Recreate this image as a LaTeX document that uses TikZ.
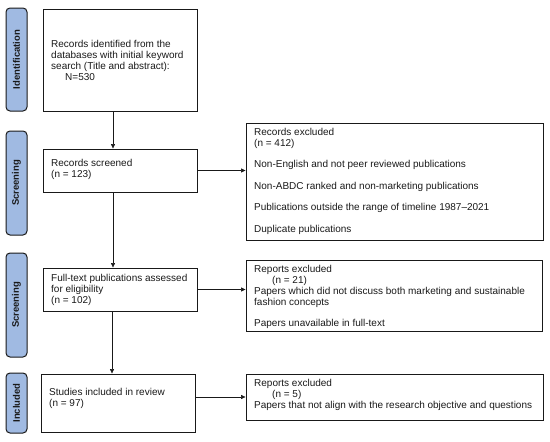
\documentclass[tikz,border=0pt]{standalone}
\usepackage{fontspec}
\setmainfont{Liberation Sans}
\usetikzlibrary{arrows.meta}
\definecolor{barblue}{RGB}{160,186,226}
\definecolor{edge}{RGB}{25,25,25}
\begin{document}
\begin{tikzpicture}[x=1pt,y=-1pt,
  bar/.style={draw=edge, line width=1pt, fill=barblue, rounded corners=4pt, inner sep=0pt},
  barlbl/.style={rotate=90, font=\fontsize{9.5}{10}\selectfont\bfseries, text=black!90},
  box/.style={draw=edge, line width=0.9pt, inner sep=0pt},
  txt/.style={font=\fontsize{10}{11}\selectfont, align=left, inner sep=0pt, anchor=west, text=black!90},
  arr/.style={draw=edge, line width=0.6pt, -{Triangle[length=4.5pt,width=4pt]}}]
\useasboundingbox (0,0) rectangle (550,442);
% side bars
\node[bar, minimum width=21pt, minimum height=103pt] (b1) at (16.5,59.5) {};
\node[barlbl] (l1) at (b1.center) {Identification};
\node[bar, minimum width=21pt, minimum height=104pt] (b2) at (16.5,183) {};
\node[barlbl] (l2) at (b2.center) {Screening};
\node[bar, minimum width=21pt, minimum height=104pt] (b3) at (16.5,305) {};
\node[barlbl] (l3) at (b3.center) {Screening};
\node[bar, minimum width=21pt, minimum height=60pt] (b4) at (16.5,403) {};
\node[barlbl] (l4) at (b4.center) {Included};
% main boxes
\node[box, minimum width=154pt, minimum height=102pt] (m1) at (120,60) {};
\node[txt] (t1) at (51,60) {Records identified from the\\databases with initial keyword\\search (Title and abstract):\\\hspace*{14pt}N=530};
\node[box, minimum width=154pt, minimum height=43pt] (m2) at (120,170.5) {};
\node[txt] (t2) at (51,169.5) {Records screened\\(n = 123)};
\node[box, minimum width=154pt, minimum height=43pt] (m3) at (120,289.5) {};
\node[txt] (t3) at (51,290) {Full-text publications assessed\\for eligibility\\(n = 102)};
\node[box, minimum width=154pt, minimum height=58pt] (m4) at (118,403) {};
\node[txt] (t4) at (49,398) {Studies included in review\\(n = 97)};
% exclusion boxes
\node[box, minimum width=297pt, minimum height=117pt] (e1) at (394.5,181.5) {};
\node[txt] (s1) at (254,181) {Records excluded\\(n = 412)\\[10.5pt]Non-English and not peer reviewed publications\\[10.5pt]Non-ABDC ranked and non-marketing publications\\[10.5pt]Publications outside the range of timeline 1987–2021\\[10.5pt]Duplicate publications};
\node[box, minimum width=296pt, minimum height=71pt] (e2) at (394,295.5) {};
\node[txt] (s2) at (254,296.5) {Reports excluded\\\hspace*{18pt}(n = 21)\\Papers which did not discuss both marketing and sustainable\\fashion concepts\\[10pt]Papers unavailable in full-text};
\node[box, minimum width=297pt, minimum height=46pt] (e3) at (394.5,397) {};
\node[txt] (s3) at (254,394.5) {Reports excluded\\\hspace*{18pt}(n = 5)\\Papers that not align with the research objective and questions};
% connectors
\coordinate (ax) at (113,0);
\coordinate (ax4) at (112,0);
\draw[arr] (m1.south -| ax) -- (m2.north -| ax);
\draw[arr] (m2.south -| ax) -- (m3.north -| ax);
\draw[arr] (m3.south -| ax4) -- (m4.north -| ax4);
\draw[arr] (m2.east) -- (m2.east -| e1.west);
\draw[arr] (m3.east) -- (m3.east -| e2.west);
\draw[arr] (m4.east |- e3.west) -- (e3.west);
\end{tikzpicture}
\end{document}
